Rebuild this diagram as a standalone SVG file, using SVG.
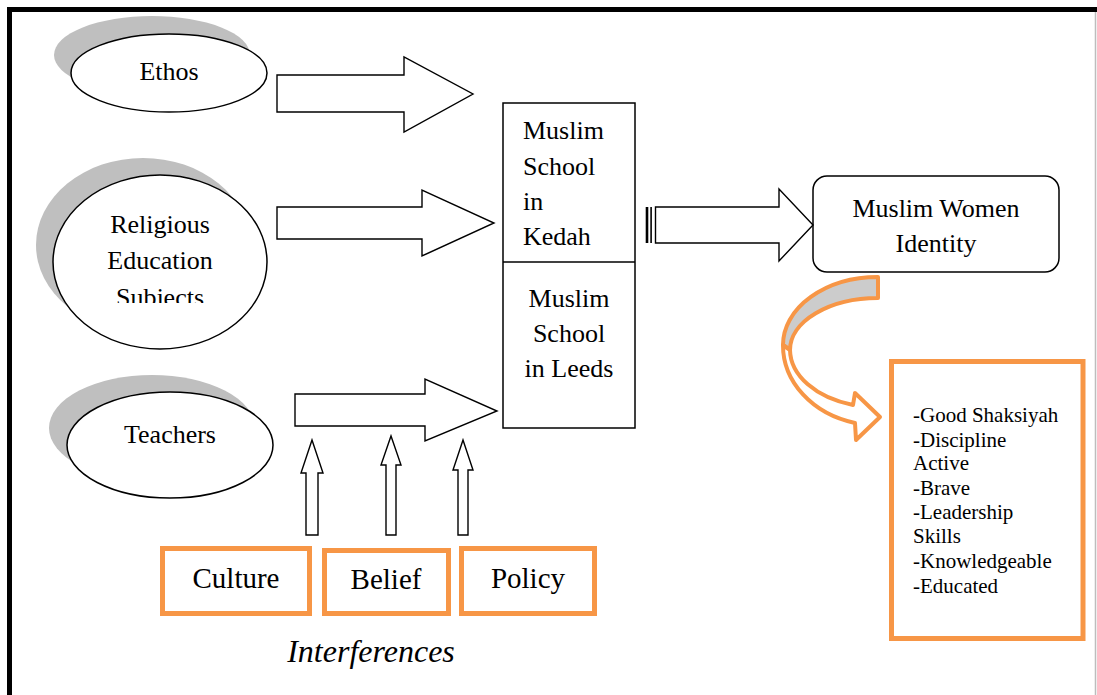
<svg xmlns="http://www.w3.org/2000/svg" width="1097" height="695" viewBox="0 0 1097 695">
<defs>
<style>
.t{font-family:"Liberation Serif","Times New Roman",serif;fill:#000}
.ol{fill:#fff;stroke:#000;stroke-width:1.5}
.sh{fill:#BFBFBF;stroke:none}
.or{fill:#fff;stroke:#F79646;stroke-width:5}
.arr{fill:#fff;stroke:#000;stroke-width:1.4;stroke-linejoin:miter}
.cur{stroke:#F79646;stroke-width:4;stroke-linejoin:round}
</style>
<clipPath id="clipRel"><rect x="0" y="0" width="400" height="303"/></clipPath>
</defs>
<rect width="1097" height="695" fill="#fff"/>
<g id="frame">
<path d="M9.5 695 V9.5 H1097" fill="none" stroke="#000" stroke-width="5"/>
<line x1="1095.5" y1="12" x2="1095.5" y2="695" stroke="#BDBDBD" stroke-width="1.5"/>
</g>
<g id="ethos">
<ellipse class="sh" cx="152" cy="55" rx="98" ry="39"/>
<ellipse class="ol" cx="169" cy="73" rx="98" ry="39"/>
<text class="t" x="169" y="80" text-anchor="middle" font-size="26">Ethos</text>
</g>
<g id="religious">
<ellipse class="sh" cx="143" cy="245" rx="107" ry="87"/>
<ellipse class="ol" cx="160" cy="262" rx="107" ry="87"/>
<g class="t" font-size="26" text-anchor="middle">
<text x="160" y="233">Religious</text>
<text x="160" y="269">Education</text>
<text x="160" y="306" clip-path="url(#clipRel)">Subjects</text>
</g>
</g>
<g id="teachers">
<ellipse class="sh" cx="152" cy="428" rx="103" ry="53"/>
<ellipse class="ol" cx="170" cy="445" rx="103" ry="53"/>
<text class="t" x="170" y="443" text-anchor="middle" font-size="26">Teachers</text>
</g>
<g id="schools">
<rect x="503" y="103" width="132" height="325" fill="#fff" stroke="#000" stroke-width="1.5"/>
<line x1="503" y1="262" x2="635" y2="262" stroke="#000" stroke-width="1.5"/>
<g class="t" font-size="26">
<text x="523" y="139">Muslim</text>
<text x="523" y="175">School</text>
<text x="523" y="210">in</text>
<text x="523" y="245">Kedah</text>
</g>
<g class="t" font-size="26" text-anchor="middle">
<text x="569" y="307">Muslim</text>
<text x="569" y="342">School</text>
<text x="569" y="377">in Leeds</text>
</g>
</g>
<g id="identity">
<rect x="813" y="176" width="246" height="96" rx="14" fill="#fff" stroke="#000" stroke-width="1.5"/>
<g class="t" font-size="26" text-anchor="middle">
<text x="936" y="217">Muslim Women</text>
<text x="936" y="252">Identity</text>
</g>
</g>
<g id="qualities">
<rect class="or" x="891.5" y="361.5" width="191.5" height="277"/>
<g class="t" font-size="21">
<text x="913" y="422">-Good Shaksiyah</text>
<text x="913" y="447">-Discipline</text>
<text x="913" y="470">Active</text>
<text x="913" y="495">-Brave</text>
<text x="913" y="519">-Leadership</text>
<text x="913" y="543">Skills</text>
<text x="913" y="568">-Knowledgeable</text>
<text x="913" y="593">-Educated</text>
</g>
</g>
<g id="culture">
<rect class="or" x="162.5" y="548.5" width="147" height="65"/>
<text class="t" x="236" y="588" text-anchor="middle" font-size="29">Culture</text>
</g>
<g id="belief">
<rect class="or" x="324.5" y="550.5" width="124" height="63"/>
<text class="t" x="386" y="589" text-anchor="middle" font-size="29">Belief</text>
</g>
<g id="policy">
<rect class="or" x="461.5" y="548.5" width="133" height="65"/>
<text class="t" x="528" y="588" text-anchor="middle" font-size="29">Policy</text>
</g>
<g id="interferences">
<text class="t" x="371" y="662" text-anchor="middle" font-size="32" font-style="italic">Interferences</text>
</g>
<g id="connectors">
<path class="arr" d="M277 75 H404 V57 L473 94 L404 132 V112 H277 Z"/>
<path class="arr" d="M277 207 H422 V190 L494 223 L422 256 V239 H277 Z"/>
<path class="arr" d="M295 394 H425 V379 L497 411 L425 441 V426 H295 Z"/>
<rect x="645.7" y="207" width="2.6" height="36" fill="#000"/>
<rect x="650.3" y="207" width="1.6" height="36" fill="#000"/>
<path class="arr" d="M655.5 207 H779 V189 L813 225 L779 261 V243 H655.5 Z"/>
<path class="arr" d="M306 535 V473 H301 L312 440 L323 473 H318 V535 Z"/>
<path class="arr" d="M386 535 V465 H381 L391 436 L401 465 H396 V535 Z"/>
<path class="arr" d="M458 535 V470 H453 L463 440 L473 470 H468 V535 Z"/>
<path class="cur" fill="#CCCCCC" d="M878 277 A95 68 0 0 0 783 345 L790 350 A88 52 0 0 1 878 298 Z"/>
<path class="cur" fill="#fff" d="M783 345 A95 80 0 0 0 855 423 L856 440 L880 417 L855 393 L853 405 A88 58 0 0 1 790 350 Z"/>
</g>
</svg>
